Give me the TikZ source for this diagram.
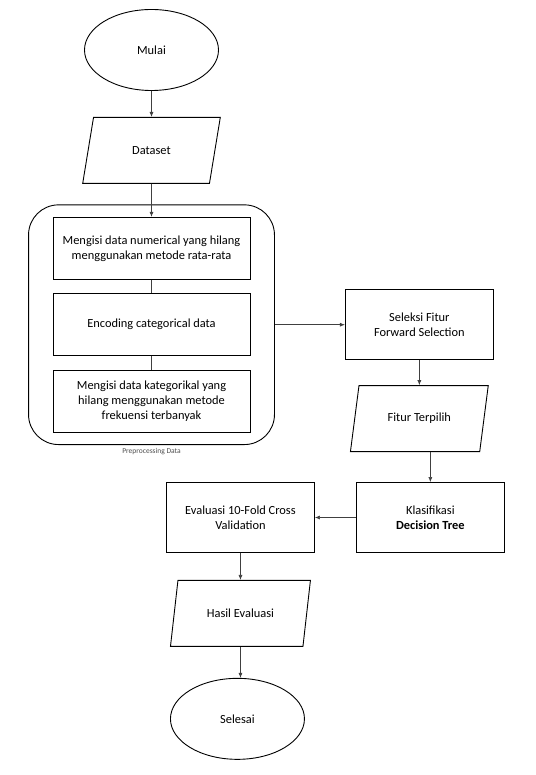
\documentclass[tikz,border=0pt]{standalone}
\usepackage{fontspec}
\setmainfont{Carlito}
\usetikzlibrary{shapes.geometric, arrows.meta, positioning, fit}

\begin{document}
\begin{tikzpicture}[
  x=1pt, y=-1pt,
  font=\fontsize{12.4}{15}\selectfont,
  >={Latex[length=5pt,width=4pt]},
  every node/.style={align=center},
  term/.style={draw, ellipse, line width=0.9pt,
               minimum width=134pt, minimum height=81pt},
  dataio/.style={draw, trapezium, trapezium left angle=74,
                 trapezium right angle=106, trapezium stretches=true,
                 line width=0.9pt, minimum width=138pt, minimum height=66pt},
  proc/.style={draw, rectangle, line width=0.9pt,
               minimum width=197pt, minimum height=62pt},
  side/.style={draw, rectangle, line width=0.9pt,
               minimum width=148pt, minimum height=70pt},
  arr/.style={->, line width=0.6pt, draw=black!75},
  conn/.style={line width=0.6pt, draw=black!75}
]
\useasboundingbox (0,0) rectangle (535,775);

\node[term] (mulai) at (151.5,50) {Mulai};
\node[dataio, below=26pt of mulai] (data) {Dataset};

\node[proc, below=33pt of data] (m1) {Mengisi data numerical yang hilang\\menggunakan metode rata-rata};
\node[proc, below=13pt of m1] (m2) {Encoding categorical data};
\node[proc, below=14pt of m2] (m3) {Mengisi data kategorikal yang\\hilang menggunakan metode\\frekuensi terbanyak};
\node[draw, line width=0.9pt, rounded corners=30pt, inner xsep=24pt, inner ysep=12pt,
      fit=(m1) (m2) (m3)] (prep) {};
\node[font=\fontsize{7.5}{8}\selectfont, text=black!70, below=0pt of prep] (preplbl) {Preprocessing Data};

\node[side, right=70pt of prep] (sel) {Seleksi Fitur\\Forward Selection};
\node[dataio, below=25pt of sel] (fitur) {Fitur Terpilih};
\node[side, below=30pt of fitur, xshift=11pt] (kla) {Klasifikasi\\\textbf{Decision Tree}};
\node[side, left=41pt of kla] (eval) {Evaluasi 10-Fold Cross\\Validation};
\node[dataio, below=27pt of eval, minimum width=140pt] (hasil) {Hasil Evaluasi};
\node[term, below=31pt of hasil, xshift=-3pt] (selesai) {Selesai};

\draw[arr] (mulai) -- (data);
\draw[arr] (data) -- (m1);
\draw[conn] (m1) -- (m2);
\draw[conn] (m2) -- (m3);
\draw[arr] (prep) -- (sel);
\draw[arr] (sel.south) -- (sel.south |- fitur.north);
\draw[arr] (fitur.south -| kla.north) -- (kla.north);
\draw[arr] (kla) -- (eval);
\draw[arr] (eval) -- (hasil);
\draw[arr] (hasil.south) -- (hasil.south |- selesai.north);

\end{tikzpicture}
\end{document}
